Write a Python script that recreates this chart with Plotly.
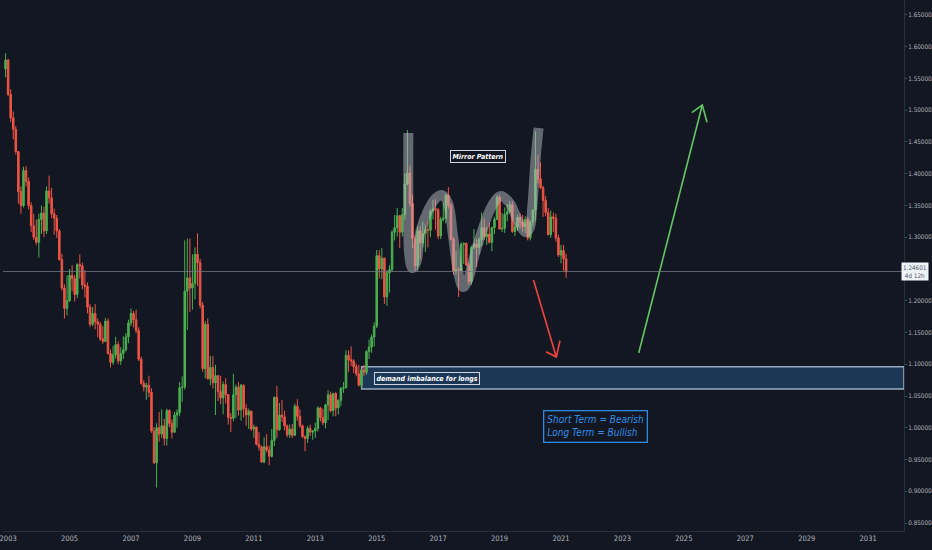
import pandas as pd
import plotly.graph_objects as go

# ---------------- data: USD/CAD monthly candles, Dec 2002 .. Mar 2021 ----------------
first_month = "2002-12"
last_month = "2021-03"

opens = [
    1.5650,
    1.5790, 1.5250, 1.4880, 1.4700, 1.4350, 1.3720, 1.3500, 1.4050, 1.3880, 1.3500, 1.3180, 1.3000,
    1.2920, 1.3280, 1.3380, 1.3100, 1.3730, 1.3620, 1.3370, 1.3300, 1.3100, 1.2650, 1.2200, 1.1880,
    1.2000, 1.2400, 1.2350, 1.2100, 1.2570, 1.2550, 1.2250, 1.2230, 1.1900, 1.1630, 1.1800, 1.1670,
    1.1630, 1.1400, 1.1360, 1.1680, 1.1170, 1.1030, 1.1150, 1.1310, 1.1050, 1.1170, 1.1230, 1.1430,
    1.1650, 1.1800, 1.1700, 1.1530, 1.1080, 1.0700, 1.0640, 1.0670, 1.0560, 0.9950, 0.9450, 1.0000,
    0.9900, 1.0030, 0.9830, 1.0270, 1.0070, 0.9930, 1.0200, 1.0240, 1.0630, 1.0640, 1.2150, 1.2360,
    1.2200, 1.2270, 1.2730, 1.2600, 1.1930, 1.0930, 1.1630, 1.0770, 1.0950, 1.0710, 1.0820, 1.0570,
    1.0470, 1.0680, 1.0520, 1.0160, 1.0150, 1.0520, 1.0640, 1.0280, 1.0670, 1.0300, 1.0200, 1.0260,
    0.9980, 1.0010, 0.9740, 0.9700, 0.9460, 0.9700, 0.9650, 0.9550, 0.9800, 1.0480, 0.9970, 1.0200,
    1.0170, 1.0030, 0.9890, 0.9980, 0.9880, 1.0340, 1.0180, 1.0030, 0.9860, 0.9830, 0.9990, 0.9930,
    0.9950, 0.9990, 1.0310, 1.0160, 1.0080, 1.0360, 1.0520, 1.0270, 1.0540, 1.0310, 1.0430, 1.0620,
    1.0630, 1.1140, 1.1070, 1.1050, 1.0960, 1.0850, 1.0670, 1.0910, 1.0870, 1.1200, 1.1270, 1.1430,
    1.1600, 1.2710, 1.2500, 1.2670, 1.2060, 1.2440, 1.2490, 1.3080, 1.3150, 1.3340, 1.3080, 1.3360,
    1.3840, 1.4010, 1.3530, 1.2980, 1.2550, 1.3100, 1.2910, 1.3060, 1.3120, 1.3110, 1.3410, 1.3450,
    1.3430, 1.3020, 1.3280, 1.3300, 1.3660, 1.3500, 1.2970, 1.2460, 1.2490, 1.2480, 1.2890, 1.2900,
    1.2560, 1.2300, 1.2840, 1.2890, 1.2840, 1.2960, 1.3150, 1.3010, 1.3050, 1.2920, 1.3150, 1.3280,
    1.3630, 1.3130, 1.3140, 1.3360, 1.3400, 1.3510, 1.3090, 1.3160, 1.3310, 1.3240, 1.3170, 1.3280,
    1.2990, 1.3240, 1.3430, 1.4070, 1.3920, 1.3780, 1.3580, 1.3390, 1.3040, 1.3320, 1.3300, 1.2990,
    1.2720, 1.2790, 1.2660,
]
highs = [
    1.5900,
    1.5810, 1.5330, 1.4980, 1.4750, 1.4360, 1.3800, 1.4110, 1.4120, 1.3940, 1.3550, 1.3370, 1.3280,
    1.3370, 1.3500, 1.3480, 1.3800, 1.3970, 1.3780, 1.3450, 1.3350, 1.3130, 1.2740, 1.2260, 1.2400,
    1.2500, 1.2560, 1.2400, 1.2590, 1.2730, 1.2600, 1.2480, 1.2290, 1.1950, 1.1900, 1.1950, 1.1720,
    1.1670, 1.1600, 1.1730, 1.1720, 1.1230, 1.1290, 1.1430, 1.1360, 1.1270, 1.1440, 1.1490, 1.1700,
    1.1880, 1.1840, 1.1860, 1.1580, 1.1120, 1.0750, 1.0710, 1.0820, 1.0620, 1.0010, 1.0070, 1.0250,
    1.0290, 1.0140, 1.0300, 1.0290, 1.0130, 1.0250, 1.0290, 1.0720, 1.0810, 1.2950, 1.2980, 1.2980,
    1.2730, 1.2840, 1.3060, 1.2660, 1.1980, 1.1680, 1.1720, 1.1130, 1.1130, 1.0990, 1.0830, 1.0820,
    1.0730, 1.0780, 1.0530, 1.0230, 1.0850, 1.0680, 1.0720, 1.0690, 1.0680, 1.0370, 1.0300, 1.0270,
    1.0050, 1.0020, 0.9930, 0.9720, 0.9850, 0.9900, 0.9720, 0.9980, 1.0490, 1.0660, 1.0390, 1.0440,
    1.0270, 1.0050, 1.0050, 1.0060, 1.0380, 1.0450, 1.0290, 1.0050, 0.9880, 1.0030, 1.0050, 0.9960,
    1.0080, 1.0340, 1.0330, 1.0300, 1.0380, 1.0590, 1.0570, 1.0550, 1.0560, 1.0450, 1.0640, 1.0720,
    1.1220, 1.1220, 1.1280, 1.1080, 1.1010, 1.0990, 1.0930, 1.0990, 1.1220, 1.1390, 1.1470, 1.1660,
    1.2800, 1.2800, 1.2830, 1.2680, 1.2480, 1.2560, 1.3110, 1.3350, 1.3460, 1.3350, 1.3460, 1.4000,
    1.4690, 1.4130, 1.3670, 1.3030, 1.3180, 1.3170, 1.3250, 1.3200, 1.3250, 1.3440, 1.3590, 1.3600,
    1.3460, 1.3320, 1.3540, 1.3690, 1.3790, 1.3540, 1.3000, 1.2780, 1.2530, 1.2920, 1.2920, 1.2920,
    1.2600, 1.2870, 1.3130, 1.2970, 1.3000, 1.3390, 1.3290, 1.3170, 1.3230, 1.3170, 1.3320, 1.3660,
    1.3670, 1.3380, 1.3470, 1.3520, 1.3570, 1.3570, 1.3230, 1.3350, 1.3380, 1.3350, 1.3330, 1.3320,
    1.3270, 1.3440, 1.4670, 1.4300, 1.4180, 1.3810, 1.3650, 1.3460, 1.3420, 1.3390, 1.3370, 1.3040,
    1.2880, 1.2880, 1.2740,
]
lows = [
    1.5520,
    1.5220, 1.4810, 1.4540, 1.4300, 1.3530, 1.3370, 1.3470, 1.3800, 1.3440, 1.3080, 1.2960, 1.2880,
    1.2680, 1.3050, 1.3000, 1.3050, 1.3530, 1.3300, 1.3040, 1.2990, 1.2630, 1.2160, 1.1720, 1.1770,
    1.1980, 1.2150, 1.1990, 1.2040, 1.2350, 1.2180, 1.2050, 1.1800, 1.1590, 1.1600, 1.1550, 1.1430,
    1.1370, 1.1320, 1.1350, 1.1150, 1.0950, 1.0990, 1.1090, 1.1000, 1.0990, 1.1080, 1.1200, 1.1330,
    1.1600, 1.1580, 1.1490, 1.1050, 1.0680, 1.0570, 1.0440, 1.0480, 0.9920, 0.9430, 0.9060, 0.9780,
    0.9840, 0.9720, 0.9720, 1.0010, 0.9830, 0.9920, 1.0000, 1.0180, 1.0410, 1.0600, 1.1540, 1.1820,
    1.1860, 1.2020, 1.2230, 1.1880, 1.0880, 1.0780, 1.0760, 1.0670, 1.0620, 1.0200, 1.0420, 1.0370,
    1.0210, 1.0380, 1.0050, 0.9930, 1.0100, 1.0150, 1.0190, 1.0110, 1.0160, 1.0030, 0.9980, 0.9950,
    0.9840, 0.9720, 0.9640, 0.9450, 0.9440, 0.9610, 0.9410, 0.9530, 0.9710, 0.9840, 0.9950, 1.0090,
    0.9960, 0.9850, 0.9840, 0.9840, 0.9880, 1.0110, 1.0000, 0.9840, 0.9630, 0.9760, 0.9870, 0.9810,
    0.9840, 0.9940, 1.0100, 1.0040, 0.9990, 1.0120, 1.0240, 1.0180, 1.0180, 1.0210, 1.0340, 1.0550,
    1.0620, 1.0880, 1.0970, 1.0860, 1.0810, 1.0650, 1.0620, 1.0810, 1.0830, 1.1080, 1.1180, 1.1280,
    1.1570, 1.2350, 1.2340, 1.1950, 1.1920, 1.2130, 1.2450, 1.2950, 1.3010, 1.2830, 1.3010, 1.3280,
    1.3820, 1.3480, 1.2830, 1.2460, 1.2460, 1.2650, 1.2840, 1.2770, 1.2840, 1.3000, 1.3280, 1.3120,
    1.2970, 1.2970, 1.3250, 1.3220, 1.3450, 1.2950, 1.2410, 1.2410, 1.2060, 1.2450, 1.2580, 1.2550,
    1.2250, 1.2250, 1.2810, 1.2530, 1.2730, 1.2860, 1.2960, 1.2880, 1.2900, 1.2780, 1.3050, 1.3280,
    1.3120, 1.3080, 1.3070, 1.3250, 1.3380, 1.3070, 1.3020, 1.3100, 1.3130, 1.3090, 1.3070, 1.2950,
    1.2950, 1.3170, 1.3260, 1.3850, 1.3760, 1.3320, 1.3330, 1.3030, 1.2990, 1.3080, 1.2930, 1.2690,
    1.2590, 1.2470, 1.2360,
]
closes = [
    1.5790,
    1.5250, 1.4880, 1.4700, 1.4350, 1.3720, 1.3500, 1.4050, 1.3880, 1.3500, 1.3180, 1.3000, 1.2920,
    1.3280, 1.3380, 1.3100, 1.3730, 1.3620, 1.3370, 1.3300, 1.3100, 1.2650, 1.2200, 1.1880, 1.2000,
    1.2400, 1.2350, 1.2100, 1.2570, 1.2550, 1.2250, 1.2230, 1.1900, 1.1630, 1.1800, 1.1670, 1.1630,
    1.1400, 1.1360, 1.1680, 1.1170, 1.1030, 1.1150, 1.1310, 1.1050, 1.1170, 1.1230, 1.1430, 1.1650,
    1.1800, 1.1700, 1.1530, 1.1080, 1.0700, 1.0640, 1.0670, 1.0560, 0.9950, 0.9450, 1.0000, 0.9900,
    1.0030, 0.9830, 1.0270, 1.0070, 0.9930, 1.0200, 1.0240, 1.0630, 1.0640, 1.2150, 1.2360, 1.2200,
    1.2270, 1.2730, 1.2600, 1.1930, 1.0930, 1.1630, 1.0770, 1.0950, 1.0710, 1.0820, 1.0570, 1.0470,
    1.0680, 1.0520, 1.0160, 1.0150, 1.0520, 1.0640, 1.0280, 1.0670, 1.0300, 1.0200, 1.0260, 0.9980,
    1.0010, 0.9740, 0.9700, 0.9460, 0.9700, 0.9650, 0.9550, 0.9800, 1.0480, 0.9970, 1.0200, 1.0170,
    1.0030, 0.9890, 0.9980, 0.9880, 1.0340, 1.0180, 1.0030, 0.9860, 0.9830, 0.9990, 0.9930, 0.9950,
    0.9990, 1.0310, 1.0160, 1.0080, 1.0360, 1.0520, 1.0270, 1.0540, 1.0310, 1.0430, 1.0620, 1.0630,
    1.1140, 1.1070, 1.1050, 1.0960, 1.0850, 1.0670, 1.0910, 1.0870, 1.1200, 1.1270, 1.1430, 1.1600,
    1.2710, 1.2500, 1.2670, 1.2060, 1.2440, 1.2490, 1.3080, 1.3150, 1.3340, 1.3080, 1.3360, 1.3840,
    1.4010, 1.3530, 1.2980, 1.2550, 1.3100, 1.2910, 1.3060, 1.3120, 1.3110, 1.3410, 1.3450, 1.3430,
    1.3020, 1.3280, 1.3300, 1.3660, 1.3500, 1.2970, 1.2460, 1.2490, 1.2480, 1.2890, 1.2900, 1.2560,
    1.2300, 1.2840, 1.2890, 1.2840, 1.2960, 1.3150, 1.3010, 1.3050, 1.2920, 1.3150, 1.3280, 1.3630,
    1.3130, 1.3140, 1.3360, 1.3400, 1.3510, 1.3090, 1.3160, 1.3310, 1.3240, 1.3170, 1.3280, 1.2990,
    1.3240, 1.3430, 1.4070, 1.3920, 1.3780, 1.3580, 1.3390, 1.3040, 1.3320, 1.3300, 1.2990, 1.2720,
    1.2790, 1.2660, 1.24601,
]

last_price = 1.24601
last_price_label = "1.24601<br>4d 12h"
x_ticks = list(range(2003, 2032, 2))
y_ticks = [0.85, 0.90, 0.95, 1.00, 1.05, 1.10, 1.15, 1.20, 1.30, 1.35, 1.40, 1.45, 1.50, 1.55, 1.60, 1.65]

# drawings (year, price)
zone_x0 = 2014.51
zone_y0, zone_y1 = 1.0610, 1.0960
highlighter_x = [2016.03, 2016.03, 2016.06, 2016.16, 2016.29, 2016.42, 2016.68, 2016.93, 2017.13, 2017.32,
                 2017.48, 2017.65, 2017.81, 2017.97, 2018.16, 2018.42, 2018.75, 2019.04, 2019.33, 2019.59,
                 2019.85, 2019.98, 2020.07, 2020.17, 2020.27]
highlighter_y = [1.4641, 1.3586, 1.2720, 1.2516, 1.2610, 1.3082, 1.3429, 1.3618, 1.3665, 1.3539,
                 1.3035, 1.2453, 1.2216, 1.2327, 1.2673, 1.3082, 1.3492, 1.3649, 1.3539, 1.3271,
                 1.3082, 1.3145, 1.3507, 1.4216, 1.4720]
red_arrow = dict(start=(2020.104, 1.2327), tip=(2020.847, 1.1114), legs=[(2020.514, 1.1197), (2020.967, 1.1371)])
green_arrow = dict(start=(2023.53, 1.1177), tip=(2025.60, 1.5082), legs=[(2025.256, 1.4961), (2025.754, 1.4810)])

# ---------------- styling ----------------
BG = "#131722"
UP = "#4caf50"
DN = "#f05545"
TXT = "#b2b5be"
FONT = "Liberation Sans Narrow, DejaVu Sans Condensed, Roboto Condensed, Roboto, sans-serif"
X_MIN, X_MAX = 2002.833, 2032.167
Y_MIN, Y_MAX = 0.8374, 1.6736
PLOT_W, R_MARGIN = 907, 25

periods = pd.period_range(first_month, last_month, freq="M")
xs = [p.year + (p.month - 1) / 12 for p in periods]

fig = go.Figure()
fig.add_trace(go.Candlestick(
    x=xs, open=opens, high=highs, low=lows, close=closes,
    increasing=dict(line=dict(color=UP, width=1), fillcolor=UP),
    decreasing=dict(line=dict(color=DN, width=1), fillcolor=DN),
    whiskerwidth=0, showlegend=False, hoverinfo="skip",
))

# highlighter stroke
fig.add_trace(go.Scatter(
    x=highlighter_x, y=highlighter_y, mode="lines",
    line=dict(color="rgba(190,192,198,0.48)", width=10, shape="spline", smoothing=1.0),
    showlegend=False, hoverinfo="skip",
))


def arrow_trace(a, color):
    (sx, sy), (tx, ty) = a["start"], a["tip"]
    (l1x, l1y), (l2x, l2y) = a["legs"]
    return go.Scatter(
        x=[sx, tx, None, l1x, tx, l2x], y=[sy, ty, None, l1y, ty, l2y],
        mode="lines", line=dict(color=color, width=1.6),
        showlegend=False, hoverinfo="skip",
    )


fig.add_trace(arrow_trace(red_arrow, "#f0473e"))
fig.add_trace(arrow_trace(green_arrow, "#62c760"))

shapes = [
    dict(type="rect", xref="x", yref="y", x0=zone_x0, x1=X_MAX, y0=zone_y0, y1=zone_y1,
         fillcolor="#1c3656", line=dict(color="rgba(170,186,206,0.9)", width=1.5), layer="below"),
    dict(type="line", xref="paper", yref="y", x0=0, x1=1, y0=last_price, y1=last_price,
         line=dict(color="rgba(120,123,134,0.75)", width=1)),
]

annotations = [
    dict(x=2018.293, y=1.4279, xref="x", yref="y", text="<b><i>Mirror Pattern</i></b>", showarrow=False,
         font=dict(family=FONT, size=7, color="#ffffff"), bgcolor=BG, bordercolor="#d1d4dc",
         borderwidth=1, borderpad=1.5),
    dict(x=2016.643, y=1.0783, xref="x", yref="y", text="<b><i>demand imbalance for longs</i></b>",
         showarrow=False, font=dict(family=FONT, size=7, color="#ffffff"), bgcolor="#1c3656",
         bordercolor="#d1d4dc", borderwidth=1, borderpad=1.5),
    dict(x=2022.125, y=1.0020, xref="x", yref="y",
         text="<i>Short Term = Bearish<br>Long Term = Bullish</i>", showarrow=False, align="left",
         font=dict(family=FONT, size=10, color="#2f8fe8"), bgcolor=BG, bordercolor="#2b8ae6",
         borderwidth=1.3, borderpad=3),
    dict(x=(PLOT_W + R_MARGIN) / PLOT_W, y=last_price, xref="paper", yref="y", xanchor="right",
         yanchor="middle", text=last_price_label, showarrow=False, align="center",
         font=dict(family=FONT, size=6.3, color="#50535e"), bgcolor="#f0f3fa", borderpad=1),
]

fig.update_layout(
    width=932, height=550, autosize=False,
    margin=dict(l=0, r=R_MARGIN, t=0, b=19),
    paper_bgcolor=BG, plot_bgcolor=BG,
    showlegend=False, hovermode=False, boxgap=0.15,
    shapes=shapes, annotations=annotations,
    font=dict(family=FONT, size=8, color=TXT),
    xaxis=dict(range=[X_MIN, X_MAX], tickvals=x_ticks, ticktext=[str(t) for t in x_ticks],
               showgrid=False, zeroline=False, showline=True, linecolor="#2a2e39", linewidth=1,
               ticks="", tickfont=dict(family=FONT, size=7.5, color=TXT), rangeslider=dict(visible=False),
               ticklabeloverflow="allow", fixedrange=True),
    yaxis=dict(range=[Y_MIN, Y_MAX], side="right", tickvals=y_ticks,
               ticktext=[f"{v:.5f}" for v in y_ticks], showgrid=False, zeroline=False,
               showline=True, linecolor="#2a2e39", linewidth=1, ticks="outside", ticklen=2,
               tickcolor="#50535e", tickfont=dict(family=FONT, size=6.3, color=TXT),
               ticklabeloverflow="allow", fixedrange=True),
)

fig.write_html(
    "out.html",
    config={"displayModeBar": False},
    post_script="document.body.style.margin='0';document.body.style.overflow='hidden';",
)
